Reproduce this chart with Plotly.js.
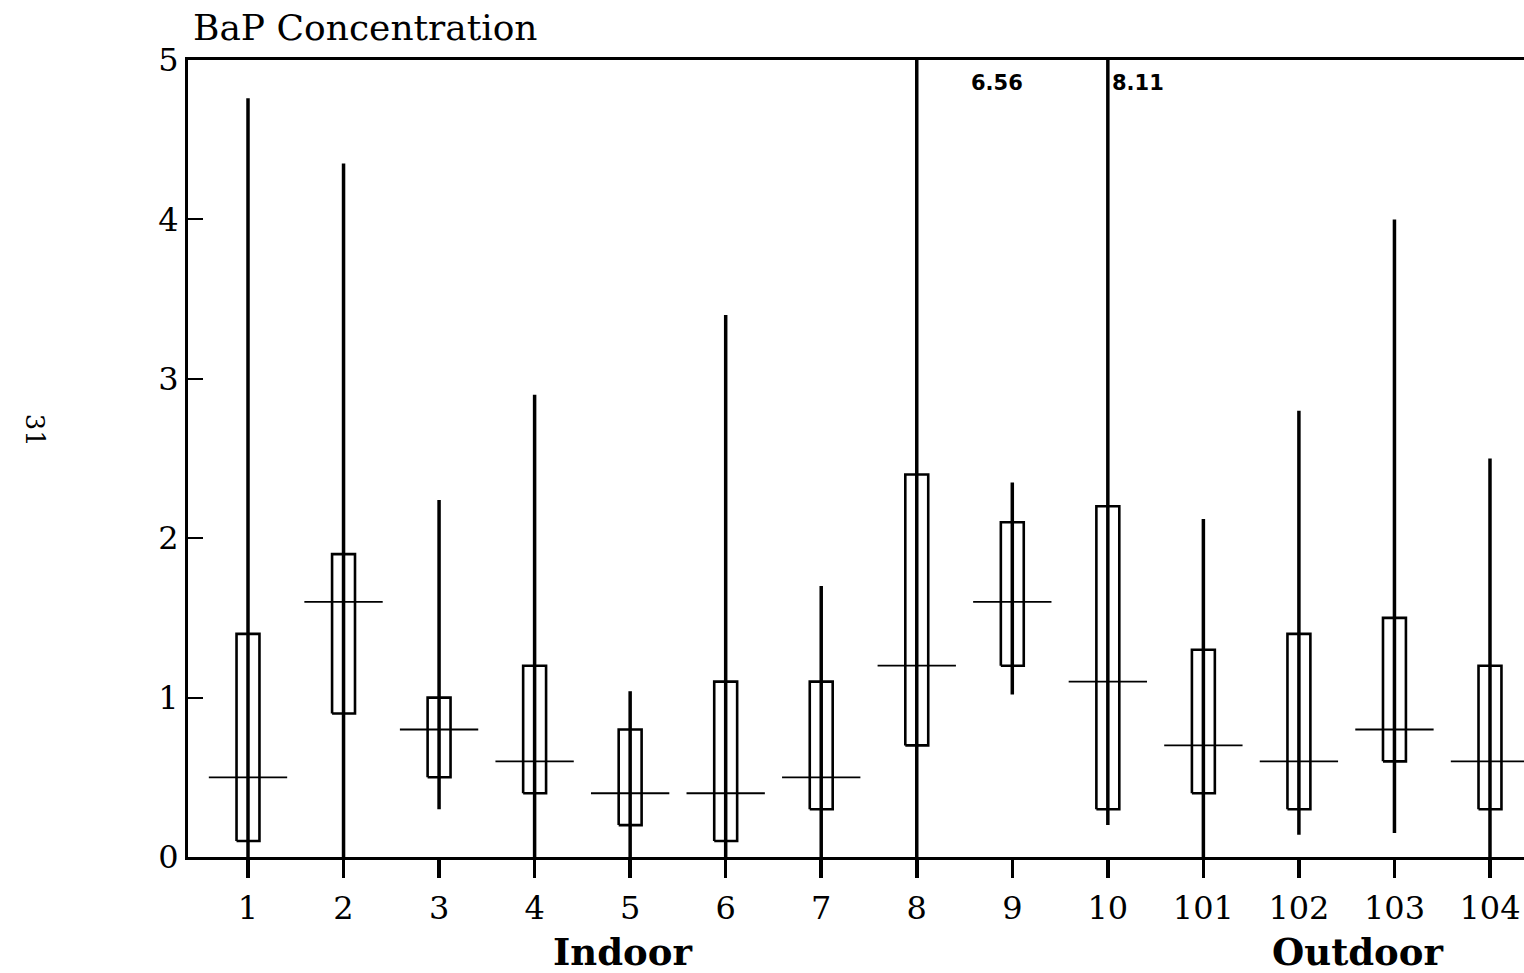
<!DOCTYPE html>
<html>
<head>
<meta charset="utf-8">
<script src="https://cdn.plot.ly/plotly-3.0.1.min.js"></script>
<style>html,body{margin:0;padding:0;background:#fff;}#chart{width:1524px;height:973px;}</style>
</head>
<body>
<div id="chart"></div>
<script>
// Categories (sites) and box statistics
const categories = ['1','2','3','4','5','6','7','8','9','10','101','102','103','104'];
const minVals    = [0, 0, 0.3, 0, 0, 0, 0, 0, 1.02, 0.2, 0, 0.14, 0.15, 0];
const q1Vals     = [0.1, 0.9, 0.5, 0.4, 0.2, 0.1, 0.3, 0.7, 1.2, 0.3, 0.4, 0.3, 0.6, 0.3];
const medianVals = [0.5, 1.6, 0.8, 0.6, 0.4, 0.4, 0.5, 1.2, 1.6, 1.1, 0.7, 0.6, 0.8, 0.6];
const q3Vals     = [1.4, 1.9, 1.0, 1.2, 0.8, 1.1, 1.1, 2.4, 2.1, 2.2, 1.3, 1.4, 1.5, 1.2];
const maxVals    = [4.76, 4.35, 2.24, 2.9, 1.04, 3.4, 1.7, 6.56, 2.35, 8.11, 2.12, 2.8, 4.0, 2.5];
const yTicks     = [0, 1, 2, 3, 4, 5];
// off-scale maxima that are printed as labels
const offScaleIdx = [7, 9];

const positions = categories.map((c, i) => i + 1);
const BOX_HALF = 0.12, MED_HALF = 0.41;

const wx = [], wy = [], bx = [], by = [], mx = [], my = [];
positions.forEach((p, i) => {
  wx.push(p, p, null); wy.push(minVals[i], maxVals[i], null);
  bx.push(p - BOX_HALF, p + BOX_HALF, p + BOX_HALF, p - BOX_HALF, p - BOX_HALF, null);
  by.push(q1Vals[i], q1Vals[i], q3Vals[i], q3Vals[i], q1Vals[i], null);
  mx.push(p - MED_HALF, p + MED_HALF, null); my.push(medianVals[i], medianVals[i], null);
});

const traces = [
  {type: 'scatter', mode: 'lines', x: wx, y: wy, line: {color: '#000', width: 3.5}, hoverinfo: 'skip', showlegend: false},
  {type: 'scatter', mode: 'lines', x: bx, y: by, line: {color: '#000', width: 2.6}, hoverinfo: 'skip', showlegend: false},
  {type: 'scatter', mode: 'lines', x: mx, y: my, line: {color: '#000', width: 1.8}, hoverinfo: 'skip', showlegend: false}
];

const serif = '"DejaVu Serif", "Liberation Serif", serif';
const annotations = offScaleIdx.map((i, k) => ({
  x: positions[i], y: 5, xref: 'x', yref: 'y',
  text: '<b>' + maxVals[i].toFixed(2) + '</b>',
  showarrow: false, xanchor: 'left', yanchor: 'top',
  xshift: k === 0 ? 52 : 2, yshift: -9,
  font: {family: '"DejaVu Sans", "Liberation Sans", sans-serif', size: 21, color: '#000'}
}));
annotations.push(
  {x: 4.92, y: -0.119, xref: 'x', yref: 'paper', text: '<b>Indoor</b>', showarrow: false,
   xanchor: 'center', yanchor: 'middle', font: {family: serif, size: 37, color: '#000'}},
  {x: 12.61, y: -0.119, xref: 'x', yref: 'paper', text: '<b>Outdoor</b>', showarrow: false,
   xanchor: 'center', yanchor: 'middle', font: {family: serif, size: 37, color: '#000'}},
  {x: -0.1145, y: 0.536, xref: 'paper', yref: 'paper', text: '31', showarrow: false, textangle: 90,
   xanchor: 'center', yanchor: 'middle', font: {family: serif, size: 26, color: '#000'}}
);

const layout = {
  width: 1524, height: 973,
  margin: {l: 188, r: 0, t: 60, b: 116},
  paper_bgcolor: '#fff', plot_bgcolor: '#fff',
  title: {text: 'BaP Concentration', x: 0.1266, xref: 'container', xanchor: 'left',
          y: 0.972, yref: 'container', yanchor: 'middle',
          font: {family: serif, size: 36, color: '#000'}},
  xaxis: {
    range: [0.372, 14.356], tickmode: 'array', tickvals: positions, ticktext: categories,
    showgrid: false, zeroline: false, showline: true, linecolor: '#000', linewidth: 3,
    mirror: true, ticks: 'outside', ticklen: 18, tickwidth: 3.5, tickcolor: '#000',
    ticklabelstandoff: 3,
    tickfont: {family: serif, size: 32, color: '#000'}
  },
  yaxis: {
    range: [0, 5], tickmode: 'array', tickvals: yTicks, ticktext: yTicks.map(String),
    showgrid: false, zeroline: false, showline: true, linecolor: '#000', linewidth: 3,
    ticks: 'inside', ticklen: 15, tickwidth: 2, tickcolor: '#000',
    tickfont: {family: serif, size: 32, color: '#000'}
  },
  annotations: annotations,
  showlegend: false
};

Plotly.newPlot('chart', traces, layout, {displayModeBar: false, staticPlot: true});
</script>
</body>
</html>
